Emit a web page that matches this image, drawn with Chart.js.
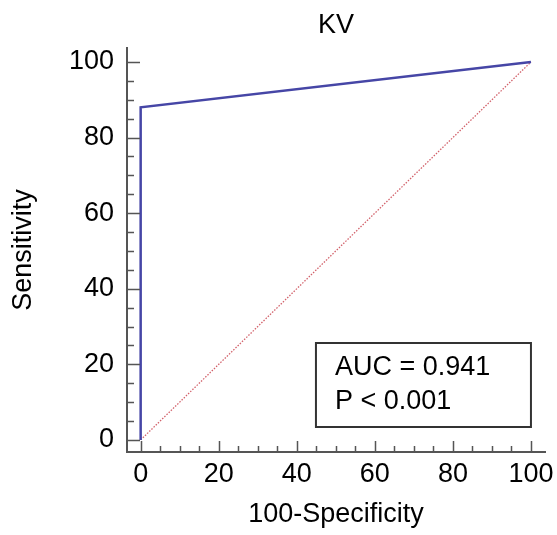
<!DOCTYPE html>
<html>
<head>
<meta charset="utf-8">
<script src="https://cdn.jsdelivr.net/npm/chart.js@4/dist/chart.umd.min.js"></script>
<style>
  html, body { margin: 0; padding: 0; background: #fff; }
  #wrap { width: 557px; height: 535px; position: relative; }
</style>
</head>
<body>
<div id="wrap"><canvas id="myChart"></canvas></div>
<script>
const rocX = [0, 0, 100];
const rocY = [0, 88, 100];
const refX = [0, 100];
const refY = [0, 100];
const tickValues = [0, 20, 40, 60, 80, 100];
const minorStep = 5;
const chartTitle = "KV";
const xTitle = "100-Specificity";
const yTitle = "Sensitivity";
const statLines = ["AUC = 0.941", "P < 0.001"];

const FONT = "'Liberation Sans', Arial, sans-serif";
const AXIS = "#555";

const toPoints = (xs, ys) => xs.map((x, i) => ({x: x, y: ys[i]}));

// inward tick marks, title and the AUC box
const extras = {
  id: "extras",
  afterDraw(chart) {
    const ctx = chart.ctx;
    const xs = chart.scales.x, ys = chart.scales.y;
    const area = chart.chartArea;
    ctx.save();
    ctx.strokeStyle = AXIS;
    ctx.lineWidth = 1.5;
    ctx.beginPath();
    for (let v = tickValues[0]; v <= tickValues[tickValues.length - 1]; v += minorStep) {
      const major = tickValues.includes(v);
      const py = Math.round(ys.getPixelForValue(v)) + 0.5;
      ctx.moveTo(area.left, py);
      ctx.lineTo(area.left + (major ? 13 : 7), py);
      const px = Math.round(xs.getPixelForValue(v)) + 0.5;
      ctx.moveTo(px, area.bottom);
      ctx.lineTo(px, area.bottom - (major ? 11 : 6));
    }
    ctx.stroke();

    ctx.fillStyle = "#000";
    ctx.font = "27px " + FONT;
    ctx.textAlign = "center";
    ctx.textBaseline = "alphabetic";
    ctx.fillText(chartTitle, (area.left + area.right) / 2, 33);

    // stats box in the lower right corner
    const right = xs.getPixelForValue(100);
    const bottom = area.bottom - 25;
    const w = 215, h = 84;
    ctx.strokeStyle = "#333";
    ctx.lineWidth = 2;
    ctx.strokeRect(right - w, bottom - h, w, h);
    ctx.textAlign = "left";
    statLines.forEach((s, i) => ctx.fillText(s, right - w + 19, bottom - h + 32 + i * 34));
    ctx.restore();
  }
};

new Chart("myChart", {
  type: "scatter",
  data: {
    datasets: [{
      data: toPoints(rocX, rocY),
      showLine: true,
      borderColor: "#4646a6",
      borderWidth: 2.5,
      pointRadius: 0,
      fill: false
    }, {
      data: toPoints(refX, refY),
      showLine: true,
      borderColor: "rgba(205,80,90,0.9)",
      borderWidth: 1.3,
      borderDash: [1.5, 1.5],
      pointRadius: 0,
      fill: false
    }]
  },
  options: {
    responsive: true,
    maintainAspectRatio: false,
    animation: false,
    layout: {padding: {top: 48, right: 12, left: 0, bottom: 0}},
    plugins: {legend: {display: false}, tooltip: {enabled: false}, title: {display: false}},
    scales: {
      x: {
        type: "linear",
        min: -3.5,
        max: 103.6,
        afterBuildTicks: s => { s.ticks = tickValues.map(v => ({value: v})); },
        afterFit: s => { s.height = 83; s.paddingLeft = 0; s.paddingRight = 0; },
        grid: {display: false, drawTicks: false},
        border: {display: true, color: AXIS, width: 2},
        ticks: {color: "#000", padding: 6, maxRotation: 0, font: {family: FONT, size: 27}},
        title: {display: true, text: xTitle, color: "#000", padding: {top: 0, bottom: 4}, font: {family: FONT, size: 27}}
      },
      y: {
        type: "linear",
        min: -3.2,
        max: 103.7,
        afterBuildTicks: s => { s.ticks = tickValues.map(v => ({value: v})); },
        afterFit: s => { s.width = 127; s.paddingTop = 0; s.paddingBottom = 0; },
        grid: {display: false, drawTicks: false},
        border: {display: true, color: AXIS, width: 2},
        ticks: {color: "#000", padding: 13, font: {family: FONT, size: 27}},
        title: {display: true, text: yTitle, color: "#000", padding: {top: 7, bottom: 0}, font: {family: FONT, size: 27}}
      }
    }
  },
  plugins: [extras]
});
</script>
</body>
</html>
